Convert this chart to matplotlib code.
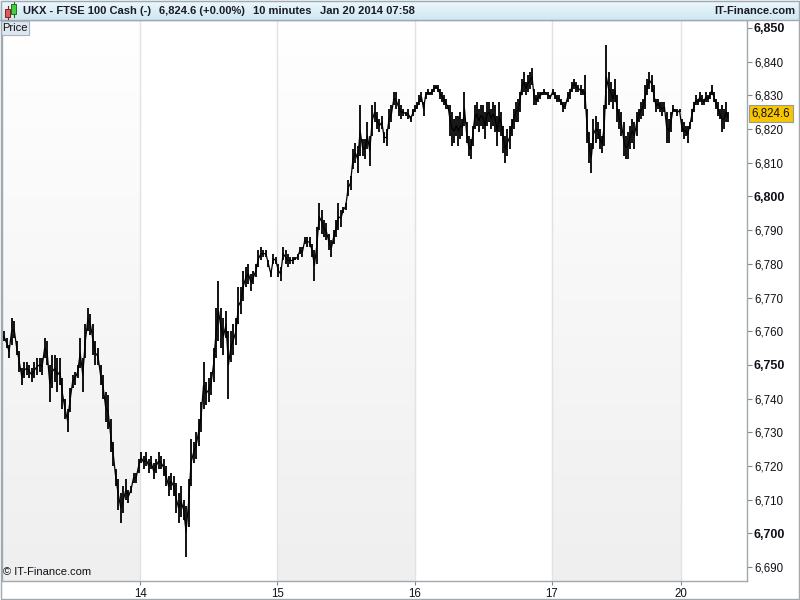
import matplotlib
matplotlib.use("Agg")
import matplotlib.pyplot as plt
import numpy as np
from matplotlib.patches import Rectangle
from matplotlib.colors import LinearSegmentedColormap

plt.rcParams['font.family'] = ['Liberation Sans', 'DejaVu Sans']

# ---------------- data ----------------
day_labels = ["13", "14", "15", "16", "17", "20"]
day_start = [0, 51, 102, 153, 204, 252]
day_len = [51, 51, 51, 51, 48, 18]

d13_low = [6757, 6755, 6752, 6756, 6758, 6753, 6748, 6744, 6746, 6747, 6746, 6745, 6746, 6747, 6748, 6747, 6752, 6750,
           6739, 6743, 6745, 6742, 6744, 6737, 6734, 6730, 6736, 6743, 6744, 6746, 6749, 6742, 6752, 6760, 6759, 6753,
           6750, 6750, 6744, 6740, 6733, 6731, 6724, 6720, 6714, 6707, 6703, 6706, 6710, 6709, 6712, 6715, 6715, 6718]
d13_high = [6760, 6758, 6756, 6764, 6763, 6757, 6754, 6749, 6751, 6751, 6750, 6749, 6751, 6752, 6752, 6752, 6758, 6757,
            6750, 6753, 6753, 6752, 6752, 6746, 6740, 6737, 6743, 6747, 6748, 6750, 6758, 6752, 6762, 6767, 6765, 6762,
            6757, 6755, 6750, 6747, 6742, 6741, 6734, 6727, 6719, 6716, 6712, 6714, 6716, 6713, 6714, 6718, 6718, 6722]

d14_low = [6721, 6719, 6720, 6718, 6719, 6716, 6718, 6719, 6719, 6717, 6714, 6711, 6713, 6711, 6706, 6703, 6705, 6704,
           6693, 6702, 6714, 6721, 6722, 6726, 6730, 6737, 6738, 6739, 6741, 6745, 6752, 6757, 6755, 6753, 6758, 6740,
           6751, 6753, 6756, 6762, 6765, 6769, 6773, 6774, 6772, 6774, 6776, 6779, 6781, 6782, 6782, 6779, 6776, 6780, 6780]
d14_high = [6724, 6723, 6724, 6722, 6723, 6721, 6722, 6724, 6723, 6722, 6720, 6717, 6718, 6717, 6715, 6712, 6714, 6710,
            6708, 6716, 6728, 6727, 6730, 6734, 6739, 6751, 6745, 6746, 6748, 6755, 6767, 6775, 6767, 6764, 6766, 6760,
            6760, 6762, 6764, 6773, 6773, 6778, 6779, 6780, 6777, 6778, 6780, 6784, 6785, 6784, 6784, 6781, 6778, 6783, 6782]

d15_low = [6776, 6775, 6781, 6780, 6779, 6780, 6780, 6781, 6781, 6783, 6782, 6786, 6785, 6785, 6782, 6775, 6780, 6790,
           6789, 6788, 6787, 6784, 6782, 6786, 6788, 6790, 6791, 6795, 6796, 6800, 6802, 6808, 6810, 6807, 6812, 6812,
           6811, 6814, 6809, 6818, 6822, 6820, 6819, 6820, 6816, 6815, 6820, 6822, 6827, 6826, 6824, 6823, 6824, 6824,
           6823, 6822, 6824]
d15_high = [6780, 6779, 6785, 6784, 6783, 6782, 6782, 6782, 6783, 6785, 6785, 6788, 6788, 6788, 6786, 6784, 6791, 6798,
            6796, 6793, 6792, 6789, 6787, 6790, 6793, 6798, 6796, 6797, 6798, 6805, 6806, 6814, 6816, 6815, 6827, 6817,
            6817, 6822, 6818, 6827, 6828, 6825, 6823, 6824, 6819, 6820, 6826, 6827, 6831, 6831, 6829, 6827, 6826, 6825,
            6826, 6824, 6826]

d16_low = [6825, 6826, 6827, 6828, 6824, 6829, 6830, 6830, 6830, 6831, 6832, 6831, 6829, 6828, 6827, 6826, 6826, 6818,
           6815, 6816, 6818, 6815, 6817, 6818, 6821, 6816, 6812, 6811, 6815, 6820, 6821, 6819, 6821, 6820, 6817, 6821,
           6822, 6820, 6821, 6819, 6815, 6819, 6818, 6813, 6810, 6812, 6814, 6818, 6820, 6822, 6822, 6825, 6830, 6831,
           6830, 6831, 6832, 6833, 6827, 6827, 6828, 6829, 6830, 6830, 6830, 6829, 6829]
d16_high = [6827, 6828, 6830, 6831, 6828, 6831, 6832, 6831, 6832, 6833, 6833, 6833, 6832, 6831, 6830, 6829, 6827, 6827,
            6825, 6823, 6824, 6824, 6825, 6823, 6831, 6822, 6818, 6817, 6821, 6827, 6828, 6826, 6827, 6827, 6825, 6828,
            6828, 6826, 6828, 6827, 6824, 6828, 6825, 6821, 6818, 6820, 6821, 6823, 6826, 6828, 6829, 6831, 6835, 6837,
            6834, 6836, 6837, 6838, 6832, 6830, 6831, 6831, 6831, 6832, 6831, 6831, 6830]

d17_low = [6830, 6829, 6828, 6828, 6827, 6825, 6826, 6828, 6829, 6831, 6832, 6831, 6831, 6830, 6830, 6826, 6816, 6810,
           6807, 6814, 6816, 6817, 6814, 6813, 6815, 6826, 6827, 6828, 6826, 6828, 6822, 6820, 6818, 6812, 6811, 6811,
           6814, 6816, 6814, 6818, 6822, 6823, 6824, 6826, 6830, 6832, 6831, 6828, 6825, 6826, 6825, 6824, 6825, 6816,
           6816, 6819, 6825, 6825, 6824, 6825]
d17_high = [6832, 6831, 6830, 6830, 6829, 6828, 6828, 6831, 6832, 6834, 6835, 6834, 6833, 6833, 6832, 6836, 6826, 6819,
            6816, 6823, 6824, 6822, 6820, 6818, 6827, 6845, 6837, 6834, 6832, 6835, 6830, 6826, 6825, 6822, 6818, 6819,
            6821, 6823, 6822, 6825, 6826, 6828, 6829, 6833, 6835, 6837, 6836, 6833, 6829, 6829, 6828, 6828, 6828, 6825,
            6823, 6825, 6827, 6826, 6826, 6826]

d20_low = [6819, 6817, 6818, 6816, 6820, 6822, 6825, 6827, 6827, 6828, 6827, 6827, 6828, 6828, 6829, 6830, 6828, 6826,
           6824, 6823, 6819, 6820, 6822, 6822]
d20_high = [6823, 6822, 6821, 6821, 6822, 6826, 6828, 6830, 6829, 6831, 6830, 6829, 6831, 6830, 6831, 6833, 6831, 6829,
            6828, 6826, 6827, 6826, 6828, 6825]

lows = [d13_low, d14_low, d15_low, d16_low, d17_low, d20_low]
highs = [d13_high, d14_high, d15_high, d16_high, d17_high, d20_high]

last_price = 6824.6
y_ticks = list(range(6690, 6851, 10))
header_parts = [("UKX - FTSE 100 Cash (-)", 23), ("6,824.6 (+0.00%)", 159),
                ("10 minutes", 253), ("Jan 20 2014 07:58", 320)]

# ---------------- figure ----------------
W, H = 800, 600
fig = plt.figure(figsize=(8, 6), dpi=100)
fig.patch.set_facecolor("white")

def fx(px):
    return px / W

def fy(py):
    return 1 - py / H

px_left, px_right, px_top, px_bot = 2, 747, 20, 581
ax = fig.add_axes([fx(px_left), fy(px_bot), (px_right - px_left) / W, (px_bot - px_top) / H])

ymin, ymax = 6685.86, 6852.37
xmin, xmax = -0.37, 276.6
ax.set_facecolor("white")

# day background shading (gradient on alternate days: white at top, light grey at bottom)
grad = np.linspace(0, 1, 256).reshape(-1, 1)
gcmap = LinearSegmentedColormap.from_list("g", ["#ffffff", "#efefef"])
ends = day_start[1:] + [xmax]
for i in (0, 2, 4):
    x0 = xmin if i == 0 else day_start[i]
    ax.imshow(grad, cmap=gcmap, aspect="auto", extent=(x0, ends[i], ymin, ymax),
              origin="upper", zorder=0)
ax.set_xlim(xmin, xmax)
ax.set_ylim(ymin, ymax)

for s in day_start[1:]:
    ax.axvline(s, color="#e2e2e2", lw=1.0, zorder=1)

# bars
all_x, all_mid = [], []
for d in range(len(day_labels)):
    n = len(lows[d])
    step = day_len[d] / n
    xs = day_start[d] + (np.arange(n) + 0.4) * step
    lo = np.array(lows[d], dtype=float)
    hi = np.array(highs[d], dtype=float)
    ax.vlines(xs, lo, hi, color="black", lw=1.3, zorder=3)
    all_x.extend(xs)
    all_mid.extend((lo + hi) / 2)
ax.plot(all_x, all_mid, color="black", lw=0.9, zorder=3)

# axes styling
for sp in ax.spines.values():
    sp.set_color("#a0a8b0")
    sp.set_linewidth(1.0)

ax.yaxis.tick_right()
ax.set_yticks(y_ticks)
ax.set_yticklabels([f"{v:,}" for v in y_ticks], fontsize=8.3, color="#101018")
for lab, v in zip(ax.get_yticklabels(), y_ticks):
    if v % 50 == 0:
        lab.set_fontweight("bold")
        lab.set_fontsize(9)
ax.tick_params(axis="y", length=3.5, color="#808890", pad=1.5, width=0.8)

ax.set_xticks(day_start[1:])
ax.set_xticklabels(day_labels[1:], fontsize=8.3, color="#101018")
ax.tick_params(axis="x", length=3, color="#808890", pad=2, width=0.8)

ax.text(0.002, 0.008, "\u00a9 IT-Finance.com", transform=ax.transAxes, fontsize=8, color="#101018",
        ha="left", va="bottom", zorder=5)

# ---------------- overlay (pixel coordinates) ----------------
ov = fig.add_axes([0, 0, 1, 1])
ov.axis("off")
ov.patch.set_visible(False)

# header gradient
hgrad = np.linspace(0, 1, 64).reshape(-1, 1)
hcmap = LinearSegmentedColormap.from_list("h", ["#eef8fc", "#cfe7f1"])
ov.imshow(hgrad, cmap=hcmap, aspect="auto", extent=(0, W, 20, 0), origin="upper", zorder=1)
ov.plot([0, W], [20, 20], color="#a0a8b0", lw=1.0, zorder=2)
ov.set_xlim(0, W)
ov.set_ylim(H, 0)

# candle icon
ov.plot([7.5, 7.5], [6, 19], color="#802020", lw=0.8, zorder=3)
ov.add_patch(Rectangle((5, 9), 5, 8, facecolor="#e05858", edgecolor="#802020", lw=0.7, zorder=4))
ov.plot([13.5, 13.5], [2, 17], color="#207020", lw=0.8, zorder=3)
ov.add_patch(Rectangle((11, 4), 5, 10, facecolor="#40d040", edgecolor="#207020", lw=0.7, zorder=4))

for txt, xp in header_parts:
    ov.text(xp, 11, txt, fontsize=8, fontweight="bold", color="#1a1a28", ha="left", va="center", zorder=5)
ov.text(795, 11, "IT-Finance.com", fontsize=8, fontweight="bold", color="#1a1a28", ha="right", va="center", zorder=5)

# "Price" tab
ov.add_patch(Rectangle((1, 20.5), 28, 14.5, facecolor="#dde7ef", edgecolor="#a8b4c0", lw=0.8, zorder=4))
ov.text(15, 28, "Price", fontsize=8, color="#101018", ha="center", va="center", zorder=5)

# last price box
y_last = px_top + (ymax - last_price) / (ymax - ymin) * (px_bot - px_top)
ov.add_patch(Rectangle((749, y_last - 8.5), 44, 17, facecolor="#f7c600", edgecolor="#9a9a9a", lw=0.8, zorder=4))
ov.text(771, y_last, f"{last_price:,.1f}", fontsize=8.3, color="#101018", ha="center", va="center", zorder=5)

# outer frame
ov.add_patch(Rectangle((0.5, 0.5), W - 1.5, H - 2, facecolor="none", edgecolor="#a0a8b0", lw=1.0, zorder=6))

fig.savefig("out.png", dpi=100)
